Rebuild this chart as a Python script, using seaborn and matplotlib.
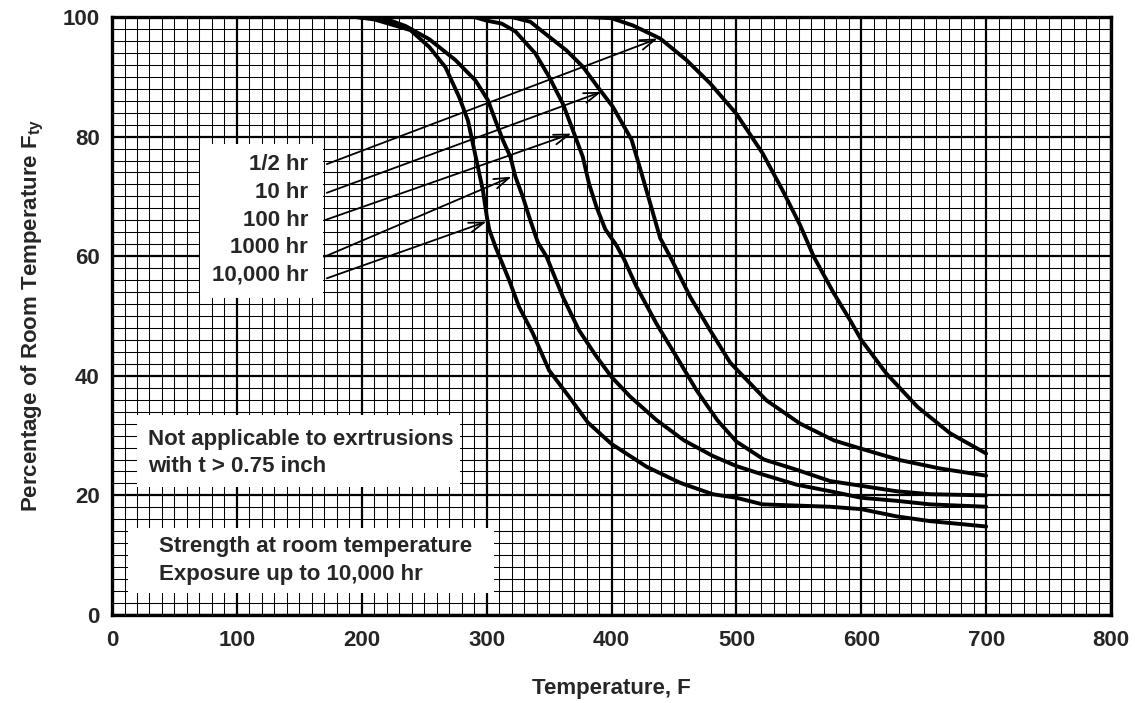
import numpy as np
import pandas as pd
import matplotlib
matplotlib.use("Agg")
import matplotlib.pyplot as plt
from matplotlib.patches import Rectangle
from matplotlib.ticker import MultipleLocator
import seaborn as sns

# ---- data ----
T_half = [0, 380, 400, 417, 439, 460, 479, 500, 521, 537, 551, 562, 578, 591, 600, 620, 645, 671, 700]
P_half = [100, 100, 99.8, 98.6, 96.4, 92.8, 88.9, 83.8, 77.2, 71.0, 65.2, 59.9, 53.8, 49.3, 46.0, 40.4, 34.8, 30.4, 27.0]

T_10 = [0, 320, 335, 347, 364, 377, 390, 401, 416, 423, 431, 439, 447, 463, 479, 495, 524, 551, 578, 600, 631, 663, 700]
P_10 = [100, 100, 99.2, 97.2, 94.4, 91.7, 88.0, 85.0, 79.5, 74.6, 68.8, 63.0, 59.9, 53.2, 47.6, 42.2, 35.9, 32.0, 29.2, 27.8, 25.9, 24.5, 23.3]

T_100 = [0, 290, 300, 312, 323, 339, 350, 361, 369, 377, 382, 388, 395, 404, 410, 420, 436, 452, 468, 485, 500, 522, 548, 575, 600, 628, 655, 700]
P_100 = [100, 100, 99.4, 98.9, 97.6, 93.9, 90.0, 85.5, 81.1, 76.6, 72.1, 68.2, 64.5, 61.8, 59.5, 54.9, 48.7, 43.2, 37.6, 32.5, 29.0, 26.0, 24.3, 22.4, 21.6, 20.7, 20.2, 20.0]

T_1000 = [0, 195, 210, 223, 235, 254, 275, 291, 301, 307, 313, 319, 323, 329, 334, 341, 348, 361, 374, 388, 400, 415, 436, 458, 481, 500, 521, 548, 575, 600, 628, 655, 700]
P_1000 = [100, 100, 99.8, 99.4, 98.5, 96.3, 92.8, 89.4, 86.1, 82.7, 79.4, 76.6, 73.3, 69.9, 66.6, 62.3, 59.9, 53.2, 47.6, 43.2, 39.8, 36.5, 32.6, 29.2, 26.6, 24.9, 23.5, 21.8, 20.7, 19.6, 19.1, 18.5, 18.1]

T_10000 = [0, 195, 210, 239, 254, 267, 278, 285, 289, 293, 297, 300, 302, 307, 318, 326, 337, 350, 366, 381, 400, 428, 455, 481, 500, 521, 548, 575, 600, 628, 655, 700]
P_10000 = [100, 100, 99.6, 97.8, 95.0, 91.6, 86.6, 82.7, 78.8, 74.9, 71.0, 66.8, 64.5, 61.6, 56.0, 51.5, 47.1, 40.9, 36.5, 32.2, 28.6, 24.8, 22.1, 20.2, 19.6, 18.5, 18.3, 18.1, 17.7, 16.5, 15.7, 14.8]

curve_labels = ["1/2 hr", "10 hr", "100 hr", "1000 hr", "10,000 hr"]
x_ticks = [0, 100, 200, 300, 400, 500, 600, 700, 800]
y_ticks = [0, 20, 40, 60, 80, 100]

series = [(T_half, P_half), (T_10, P_10), (T_100, P_100), (T_1000, P_1000), (T_10000, P_10000)]
frames = []
for lab, (t, p) in zip(curve_labels, series):
    frames.append(pd.DataFrame({"T": t, "P": p, "curve": lab}))
df = pd.concat(frames, ignore_index=True)

# ---- style ----
sns.set_theme(style="white")
plt.rcParams["font.family"] = ["Liberation Sans", "DejaVu Sans"]
plt.rcParams["font.weight"] = "bold"
plt.rcParams["axes.labelweight"] = "bold"
plt.rcParams["mathtext.fontset"] = "custom"
plt.rcParams["mathtext.bf"] = "Liberation Sans:bold"
plt.rcParams["mathtext.rm"] = "Liberation Sans:bold"

FS = 16

fig = plt.figure(figsize=(11.35, 7.03), dpi=100)
ax = fig.add_axes([0.0987, 0.1252, 0.8802, 0.8506])

sns.lineplot(data=df, x="T", y="P", units="curve", estimator=None,
             color="black", lw=2.8, ax=ax, zorder=5, legend=False)
for line in ax.get_lines():
    line.set_solid_joinstyle("round")
    line.set_solid_capstyle("round")

ax.set_xlim(0, 800)
ax.set_ylim(0, 100)
ax.set_xticks(x_ticks)
ax.set_yticks(y_ticks)
ax.xaxis.set_minor_locator(MultipleLocator(10))
ax.yaxis.set_minor_locator(MultipleLocator(2))
ax.set_axisbelow(True)
ax.grid(which="major", color="black", lw=1.6)
ax.grid(which="minor", color="black", lw=0.75)
ax.tick_params(which="both", length=0)
ax.tick_params(axis="x", labelsize=FS, pad=11)
ax.tick_params(axis="y", labelsize=FS, pad=9)
for lbl in ax.get_xticklabels() + ax.get_yticklabels():
    lbl.set_fontweight("bold")
for s in ax.spines.values():
    s.set_linewidth(2.4)
    s.set_color("black")
    s.set_zorder(6)

ax.set_xlabel("Temperature, F", fontsize=FS, fontweight="bold")
ax.set_ylabel(r"Percentage of Room Temperature F$_{\mathbf{ty}}$", fontsize=FS, fontweight="bold")
ax.xaxis.set_label_coords(0.5, -0.106)
ax.yaxis.set_label_coords(-0.066, 0.5)

# ---- white boxes hiding the grid ----
ax.add_patch(Rectangle((70.5, 53.0), 98.5, 25.7, facecolor="white", edgecolor="none", zorder=1))
ax.add_patch(Rectangle((19.7, 21.4), 258.9, 12.0, facecolor="white", edgecolor="none", zorder=1))
ax.add_patch(Rectangle((13.0, 3.7), 293.0, 10.9, facecolor="white", edgecolor="none", zorder=1))

# ---- curve labels with arrows ----
label_y = [75.3, 70.6, 66.0, 61.5, 56.9]
arrow_start = [(172, 75.4), (172, 70.6), (170, 66.0), (170, 59.9), (172, 56.3)]
arrow_tip = [(437, 96.4), (392, 87.5), (368, 80.5), (320, 73.3), (300, 65.8)]
for lab, yy, st, tp in zip(curve_labels, label_y, arrow_start, arrow_tip):
    ax.text(157, yy, lab, ha="right", va="center", fontsize=FS, fontweight="bold", zorder=7)
    ax.annotate("", xy=tp, xytext=st,
                arrowprops=dict(arrowstyle="->,head_length=0.9,head_width=0.3",
                                color="black", lw=1.3, shrinkA=0, shrinkB=0),
                zorder=7)

ax.text(29, 29.4, "Not applicable to exrtrusions", ha="left", va="center",
        fontsize=FS, fontweight="bold", zorder=7)
ax.text(29, 24.8, "with t > 0.75 inch", ha="left", va="center",
        fontsize=FS, fontweight="bold", zorder=7)
ax.text(38, 11.4, "Strength at room temperature", ha="left", va="center",
        fontsize=FS, fontweight="bold", zorder=7)
ax.text(38, 6.7, "Exposure up to 10,000 hr", ha="left", va="center",
        fontsize=FS, fontweight="bold", zorder=7)

fig.savefig("out.png", dpi=100, facecolor="white")
